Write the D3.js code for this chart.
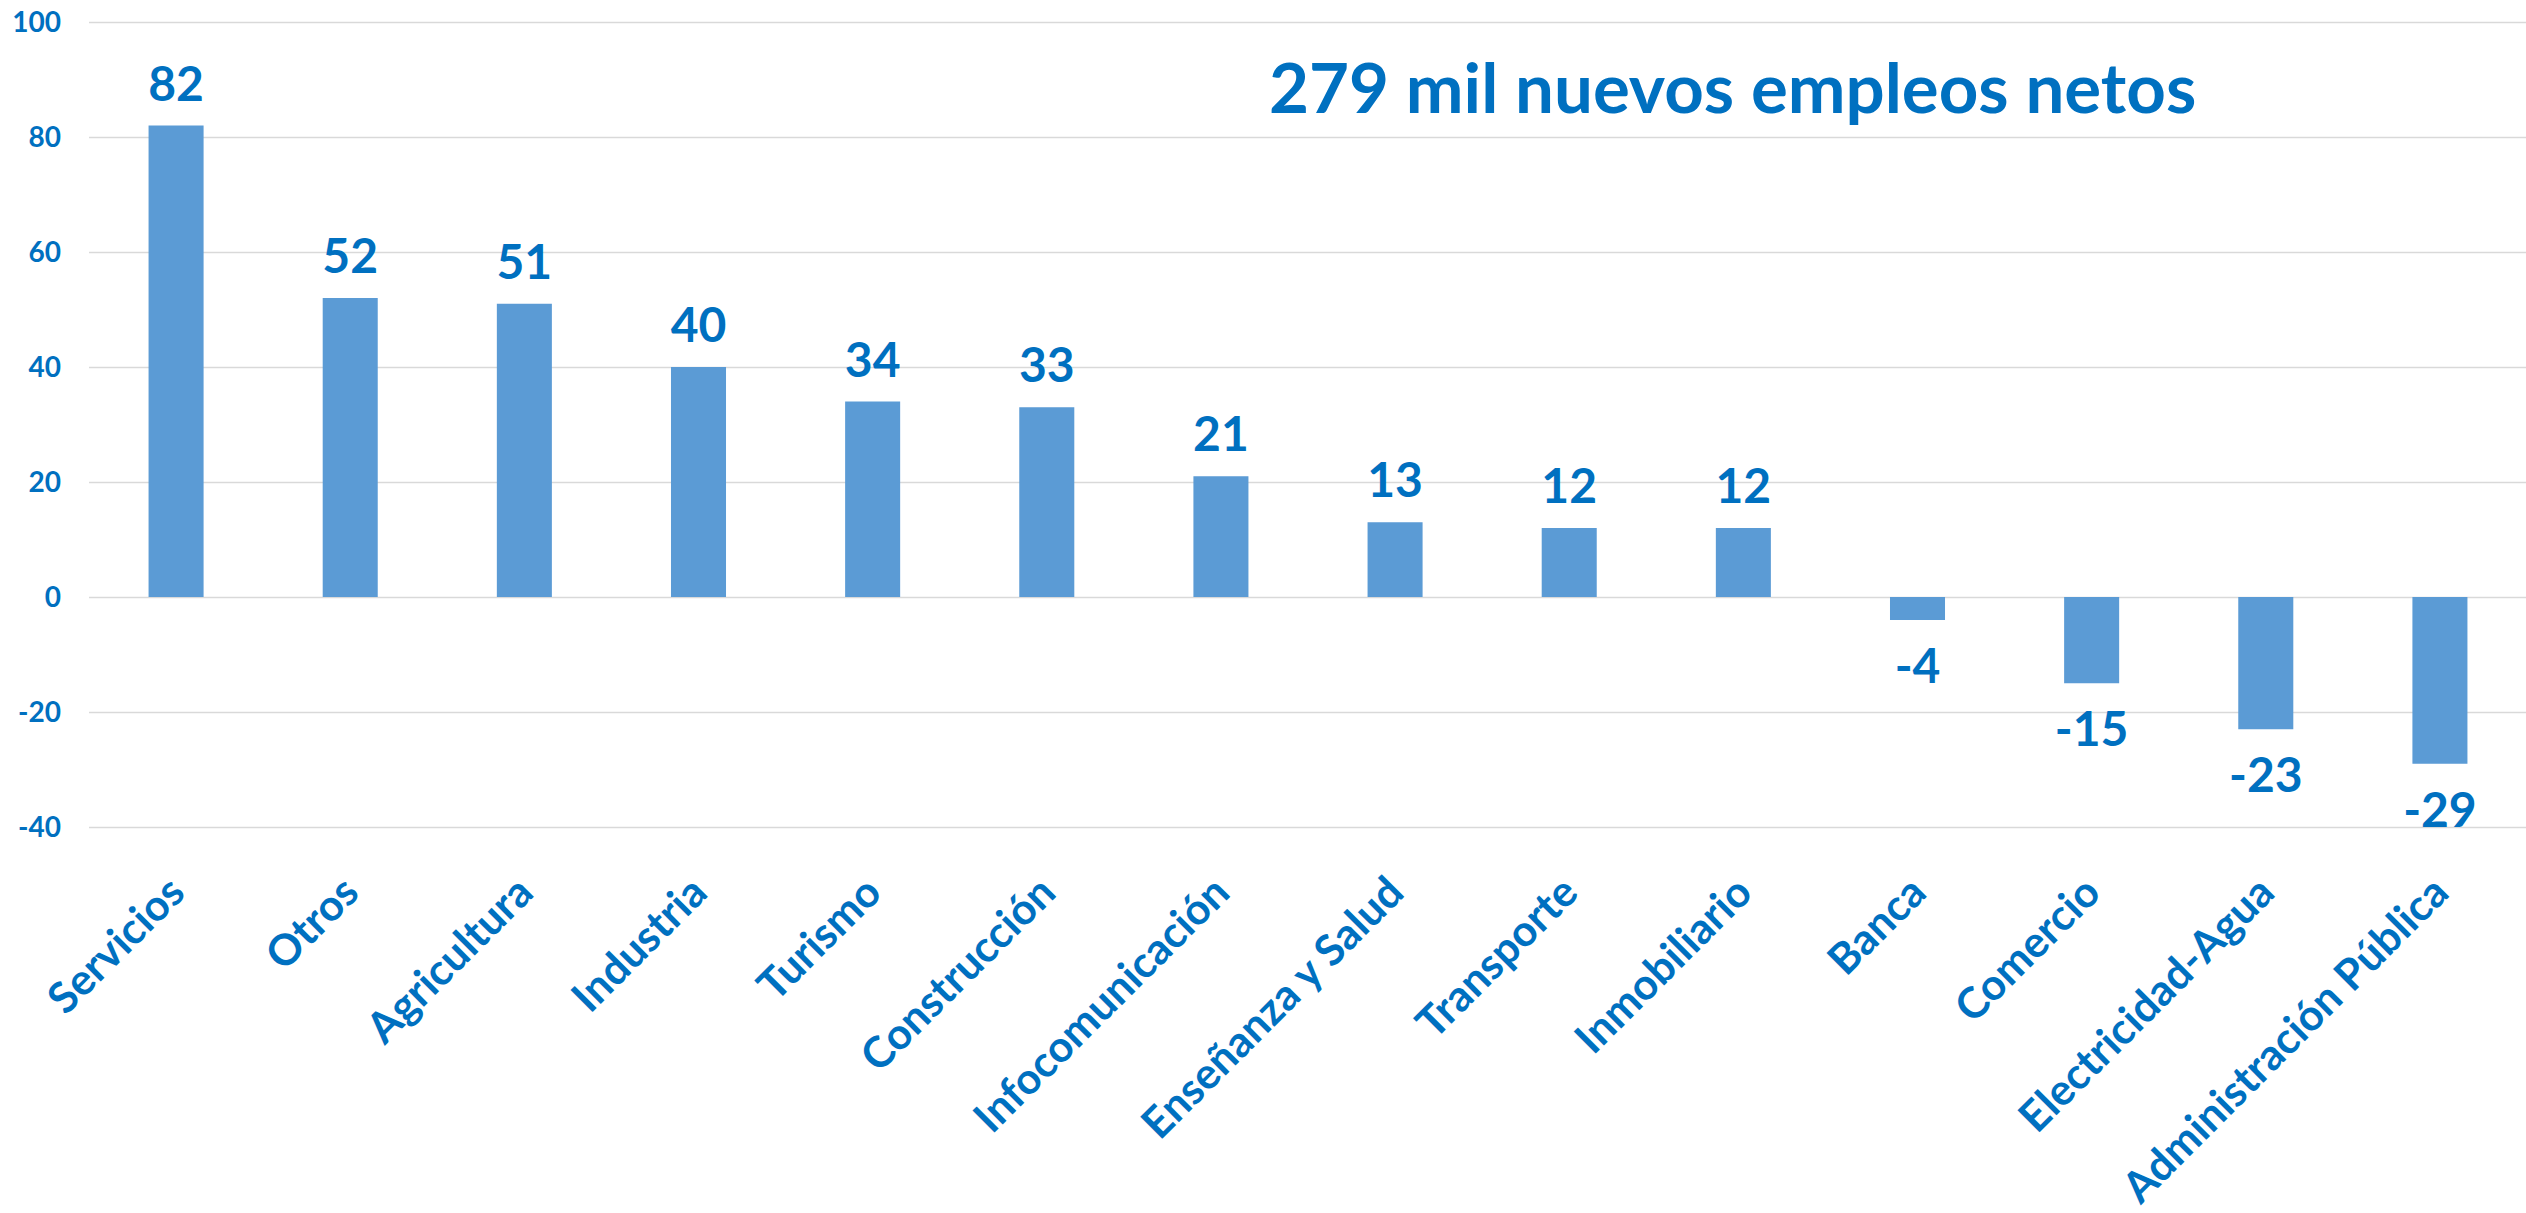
<!DOCTYPE html>
<html>
<head>
<meta charset="utf-8">
<script src="https://cdn.jsdelivr.net/npm/d3@7"></script>
<style>
    html, body { margin: 0; padding: 0; background: #fff; }
    svg { display: block; font-family: Lato, "Open Sans", sans-serif; font-weight: 700; }
    .grid line { stroke: #d9d9d9; stroke-width: 1.5; }
    .grid path { display: none; }
    .bar { fill: #5b9bd5; }
    .lbl, .tick-lbl, .cat-lbl, .title { fill: #0070c0; }
</style>
</head>
<body>
<svg id="chart" width="2526" height="1213"></svg>
<script>
// sectors, ordered as in the chart
const categories = [
    'Servicios', 'Otros', 'Agricultura', 'Industria', 'Turismo', 'Construcción',
    'Infocomunicación', 'Enseñanza y Salud', 'Transporte', 'Inmobiliario',
    'Banca', 'Comercio', 'Electricidad-Agua', 'Administración Pública'
];
// net new jobs, thousands
const values = [82, 52, 51, 40, 34, 33, 21, 13, 12, 12, -4, -15, -23, -29];
const yTicks = [-40, -20, 0, 20, 40, 60, 80, 100];
const titleText = '279 mil nuevos empleos netos';

const W = 2526, H = 1213;
const plot = { left: 89, right: 2527, top: 22, bottom: 827 };

const svg = d3.select('#chart');

const x = d3.scaleBand()
    .domain(categories)
    .range([plot.left, plot.right])
    .paddingInner(0.684)
    .paddingOuter(0.342);

const y = d3.scaleLinear()
    .domain([-40, 100])
    .range([plot.bottom, plot.top]);

// gridlines
svg.append('g')
    .attr('class', 'grid')
    .attr('transform', `translate(${plot.left},0)`)
    .call(d3.axisLeft(y).tickValues(yTicks).tickSize(-(W - plot.left)).tickFormat(''));

// y tick labels
svg.append('g').selectAll('text')
    .data(yTicks)
    .join('text')
    .attr('class', 'tick-lbl')
    .attr('x', 61)
    .attr('y', d => y(d))
    .attr('dy', '0.36em')
    .attr('text-anchor', 'end')
    .attr('font-size', 28)
    .text(d => d);

const rows = categories.map((c, i) => ({ cat: c, val: values[i] }));

svg.append('g').selectAll('rect')
    .data(rows)
    .join('rect')
    .attr('class', 'bar')
    .attr('x', d => x(d.cat))
    .attr('width', x.bandwidth())
    .attr('y', d => y(Math.max(0, d.val)))
    .attr('height', d => Math.abs(y(d.val) - y(0)));

// value labels
svg.append('g').selectAll('text')
    .data(rows)
    .join('text')
    .attr('class', 'lbl')
    .attr('x', d => x(d.cat) + x.bandwidth() / 2)
    .attr('y', d => d.val >= 0 ? y(d.val) - 25 : y(d.val) + 63)
    .attr('text-anchor', 'middle')
    .attr('font-size', 48)
    .text(d => d.val);

// rotated category labels
svg.append('g').selectAll('text')
    .data(categories)
    .join('text')
    .attr('class', 'cat-lbl')
    .attr('transform', d => `translate(${x(d) + x.bandwidth() / 2 + 11},895) rotate(-45)`)
    .attr('text-anchor', 'end')
    .attr('font-size', 43)
    .text(d => d);

svg.append('text')
    .attr('class', 'title')
    .attr('x', 1269)
    .attr('y', 113)
    .attr('font-size', 69)
    .text(titleText);
</script>
</body>
</html>
